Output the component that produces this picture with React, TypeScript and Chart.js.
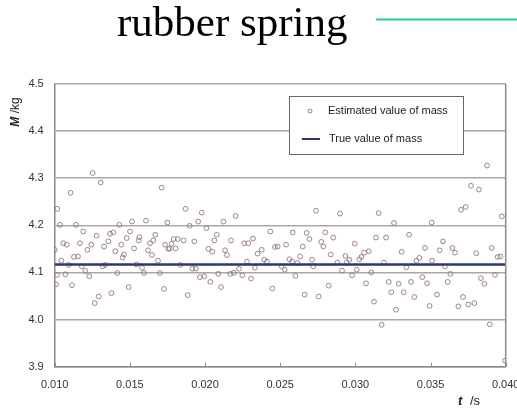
import React, { useEffect, useRef } from "react";
import { Chart, registerables } from "chart.js";

Chart.register(...registerables);

const titleText = "rubber spring";
const seriesEstimatedLabel = "Estimated value of mass";
const seriesTrueLabel = "True value of mass";

const tValues = [
  0.01253, 0.01306, 0.01106, 0.01017, 0.01035, 0.01142, 0.01712, 0.01749, 0.0143, 0.01514,
  0.01607, 0.0119, 0.01279, 0.01368, 0.0139, 0.01501, 0.01563, 0.01669, 0.01479, 0.01057,
  0.0108, 0.01168, 0.01243, 0.01328, 0.01357, 0.01443, 0.01559, 0.01634, 0.01656, 0.01734,
  0.01217, 0.01403, 0.01528, 0.01621, 0.01, 0.01756, 0.01128, 0.01155, 0.01461, 0.01452,
  0.01647, 0.01044, 0.01687, 0.01093, 0.0118, 0.01319, 0.01335, 0.01545, 0.01581, 0.01204,
  0.01417, 0.01594, 0.017, 0.01071, 0.0123, 0.01009, 0.01115, 0.01492, 0.01727, 0.01377,
  0.01293, 0.01266, 0.01015,
  0.01871, 0.01978, 0.02204, 0.01955, 0.02122, 0.01898, 0.02009, 0.02434, 0.02078, 0.01792,
  0.01818, 0.01858, 0.01929, 0.02062, 0.02173, 0.02319, 0.02261, 0.02288, 0.01778, 0.01765,
  0.01805, 0.02022, 0.02048, 0.02133, 0.02146, 0.02377, 0.02465, 0.02483, 0.0235, 0.02279,
  0.02394, 0.02412, 0.01836, 0.01915, 0.01938, 0.02226, 0.02332, 0.0251, 0.02088, 0.02168,
  0.02191, 0.02248, 0.01965, 0.01995, 0.02306, 0.02035, 0.02106, 0.02448, 0.01885,
  0.02738, 0.02898, 0.03155, 0.03257, 0.02583, 0.02676, 0.028, 0.02694, 0.02853, 0.03137,
  0.03204, 0.02773, 0.02787, 0.02539, 0.0265, 0.02996, 0.02836, 0.03058, 0.03089, 0.02632,
  0.02933, 0.03026, 0.0304, 0.02561, 0.02579, 0.02712, 0.0288, 0.0296, 0.02942, 0.0319,
  0.02614, 0.0272, 0.0253, 0.02911, 0.03009, 0.03106, 0.02601, 0.02978, 0.03222, 0.03288,
  0.03071, 0.02823, 0.03239, 0.02663, 0.02756, 0.03124, 0.0327, 0.03175,
  0.03876, 0.03769, 0.03822, 0.03703, 0.03734, 0.03974, 0.03508, 0.03357, 0.03583, 0.03308,
  0.03463, 0.03561, 0.03645, 0.03663, 0.03804, 0.03907, 0.03947, 0.03964, 0.03425, 0.03406,
  0.0351, 0.03339, 0.03596, 0.03632, 0.03929, 0.03445, 0.03835, 0.0337, 0.03477, 0.03614,
  0.03858, 0.03322, 0.03543, 0.03392, 0.03716, 0.03494, 0.03685, 0.03751, 0.03791, 0.03894,
  0.03996,
];

const massValues = [
  4.311, 4.291, 4.269, 4.235, 4.201, 4.201, 4.28, 4.206, 4.201, 4.208,
  4.21, 4.187, 4.178, 4.182, 4.185, 4.187, 4.175, 4.18, 4.173, 4.162,
  4.159, 4.162, 4.159, 4.155, 4.166, 4.159, 4.168, 4.162, 4.168, 4.159,
  4.148, 4.145, 4.151, 4.147, 4.148, 4.15, 4.133, 4.134, 4.138, 4.132,
  4.137, 4.125, 4.125, 4.116, 4.113, 4.113, 4.116, 4.117, 4.11, 4.103,
  4.099, 4.099, 4.099, 4.096, 4.092, 4.075, 4.073, 4.069, 4.065, 4.056,
  4.049, 4.035, 4.095,
  4.235, 4.227, 4.22, 4.208, 4.208, 4.199, 4.194, 4.187, 4.18, 4.171,
  4.171, 4.168, 4.166, 4.168, 4.168, 4.172, 4.162, 4.162, 4.161, 4.151,
  4.151, 4.15, 4.144, 4.147, 4.137, 4.148, 4.154, 4.155, 4.14, 4.123,
  4.127, 4.123, 4.116, 4.108, 4.108, 4.108, 4.11, 4.113, 4.097, 4.097,
  4.099, 4.094, 4.09, 4.092, 4.087, 4.08, 4.069, 4.066, 4.052,
  4.231, 4.225, 4.226, 4.205, 4.185, 4.184, 4.185, 4.171, 4.174, 4.174,
  4.174, 4.165, 4.155, 4.159, 4.155, 4.161, 4.138, 4.142, 4.145, 4.134,
  4.135, 4.128, 4.133, 4.128, 4.123, 4.127, 4.121, 4.127, 4.121, 4.121,
  4.12, 4.113, 4.106, 4.104, 4.106, 4.1, 4.093, 4.094, 4.08, 4.076,
  4.077, 4.072, 4.058, 4.053, 4.049, 4.038, 4.021, 3.989,
  4.327, 4.284, 4.276, 4.233, 4.239, 4.219, 4.206, 4.18, 4.166, 4.144,
  4.152, 4.147, 4.152, 4.142, 4.141, 4.152, 4.133, 4.134, 4.131, 4.125,
  4.125, 4.111, 4.113, 4.097, 4.095, 4.09, 4.088, 4.08, 4.077, 4.08,
  4.076, 4.058, 4.053, 4.048, 4.048, 4.029, 4.028, 4.032, 4.035, 3.99,
  3.913,
];

const trueMass = 4.117;
const tRange = [0.01, 0.04];
const mRange = [3.9, 4.5];
const tStep = 0.005;
const mStep = 0.1;

const tickFont = { family: "'Liberation Sans', Arial, sans-serif", size: 11 };
const pointColor = "rgba(150,118,125,0.9)";

export default function App() {
  const ref = useRef<HTMLCanvasElement>(null);

  useEffect(() => {
    const canvas = ref.current!;
    const overlay = {
      id: "overlay",
      afterDraw(chart: any) {
        const ctx = chart.ctx as CanvasRenderingContext2D;
        const area = chart.chartArea;
        const xs = chart.scales.x;
        ctx.save();
        // right border
        ctx.strokeStyle = "#8a8a8a";
        ctx.lineWidth = 1.5;
        ctx.beginPath();
        ctx.moveTo(area.right, area.top);
        ctx.lineTo(area.right, area.bottom);
        ctx.stroke();
        // inward ticks on x axis
        ctx.lineWidth = 1;
        for (let v = tRange[0]; v <= tRange[1] + 1e-9; v += tStep) {
          const px = Math.round(xs.getPixelForValue(v)) + 0.5;
          ctx.beginPath();
          ctx.moveTo(px, area.bottom);
          ctx.lineTo(px, area.bottom - 4);
          ctx.stroke();
        }
        // title
        ctx.fillStyle = "#000";
        ctx.font = "43px 'Liberation Serif', 'Times New Roman', serif";
        ctx.textBaseline = "alphabetic";
        ctx.textAlign = "left";
        ctx.fillText(titleText, 117, 36);
        // teal line
        ctx.strokeStyle = "#1fc99a";
        ctx.lineWidth = 2;
        ctx.beginPath();
        ctx.moveTo(376, 19.5);
        ctx.lineTo(517, 19.5);
        ctx.stroke();
        // y axis title
        ctx.save();
        ctx.translate(16, 112);
        ctx.rotate(-Math.PI / 2);
        ctx.fillStyle = "#222";
        ctx.textBaseline = "middle";
        const fM = "italic bold 12px 'Liberation Sans', Arial, sans-serif";
        const fR = "12px 'Liberation Sans', Arial, sans-serif";
        ctx.font = fM;
        const wM = ctx.measureText("M").width;
        ctx.font = fR;
        const wR = ctx.measureText(" /kg").width;
        const start = -(wM + wR) / 2;
        ctx.font = fM;
        ctx.fillText("M", start, 0);
        ctx.font = fR;
        ctx.fillText(" /kg", start + wM, 0);
        ctx.restore();
        // x axis title
        ctx.fillStyle = "#222";
        ctx.textBaseline = "middle";
        ctx.font = "italic bold 13px 'Liberation Sans', Arial, sans-serif";
        ctx.fillText("t", 458, 401);
        ctx.font = "13px 'Liberation Sans', Arial, sans-serif";
        ctx.fillText("/s", 470, 401);
        // legend
        ctx.fillStyle = "#fff";
        ctx.fillRect(289.5, 96.5, 174, 58);
        ctx.strokeStyle = "#666";
        ctx.lineWidth = 1;
        ctx.strokeRect(289.5, 96.5, 174, 58);
        ctx.strokeStyle = pointColor;
        ctx.beginPath();
        ctx.arc(310, 111, 2, 0, Math.PI * 2);
        ctx.stroke();
        ctx.strokeStyle = "#2d3768";
        ctx.lineWidth = 2;
        ctx.beginPath();
        ctx.moveTo(302, 139);
        ctx.lineTo(320, 139);
        ctx.stroke();
        ctx.fillStyle = "#222";
        ctx.font = "11px 'Liberation Sans', Arial, sans-serif";
        ctx.textBaseline = "middle";
        ctx.fillText(seriesEstimatedLabel, 328, 111);
        ctx.fillText(seriesTrueLabel, 329, 139);
        ctx.restore();
      },
    };

    const chart = new Chart(canvas, {
      data: {
        datasets: [
          {
            type: "line",
            label: seriesTrueLabel,
            data: [
              { x: tRange[0], y: trueMass },
              { x: tRange[1], y: trueMass },
            ],
            borderColor: "#2d3768",
            borderWidth: 2.5,
            pointRadius: 0,
            order: 0,
          },
          {
            type: "scatter",
            label: seriesEstimatedLabel,
            data: tValues.map((t, i) => ({ x: t, y: massValues[i] })),
            pointRadius: 2.4,
            borderWidth: 1,
            borderColor: pointColor,
            backgroundColor: "rgba(0,0,0,0)",
            order: 1,
          },
        ],
      } as any,
      options: {
        responsive: false,
        animation: false,
        layout: { padding: { top: 84, right: 11.3, left: 0, bottom: 0 } },
        plugins: { legend: { display: false }, tooltip: { enabled: false } },
        scales: {
          x: {
            type: "linear",
            min: tRange[0],
            max: tRange[1],
            ticks: {
              stepSize: tStep,
              callback: (v: any) => Number(v).toFixed(3),
              font: tickFont,
              color: "#333",
              padding: 12,
              maxRotation: 0,
              autoSkip: false,
            },
            grid: { display: false, drawTicks: false },
            border: { color: "#8a8a8a", width: 1.5 },
            afterFit: (s: any) => {
              s.height = 43.3;
              s.paddingLeft = 0;
              s.paddingRight = 0;
            },
          },
          y: {
            type: "linear",
            min: mRange[0],
            max: mRange[1],
            ticks: {
              stepSize: mStep,
              callback: (v: any) => Number(v).toFixed(1),
              font: tickFont,
              color: "#333",
              padding: 11,
            },
            grid: { color: "#a8a8a8", lineWidth: 1.5, drawTicks: false },
            border: { color: "#8a8a8a", width: 1.5 },
            afterFit: (s: any) => {
              s.width = 54.7;
            },
          },
        },
      } as any,
      plugins: [overlay],
    });
    return () => chart.destroy();
  }, []);

  return (
    <div style={{ position: "absolute", left: 0, top: 0, width: 517, height: 410, background: "#fff" }}>
      <canvas ref={ref} width={517} height={410} />
    </div>
  );
}
